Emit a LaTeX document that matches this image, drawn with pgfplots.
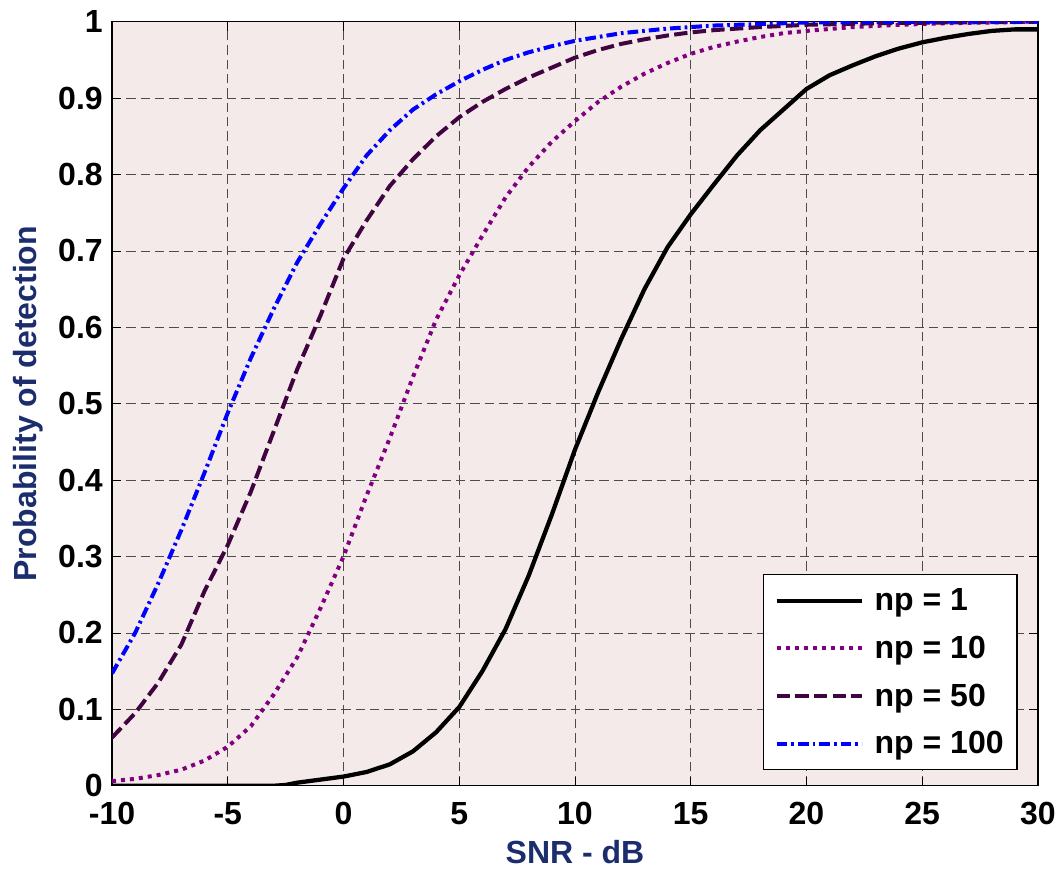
\documentclass[border=0pt]{standalone}
\usepackage{fontspec}
\setmainfont{Liberation Sans}
\usepackage{pgfplots}
\pgfplotsset{compat=1.18}

\definecolor{plotbg}{RGB}{244,234,234}
\definecolor{labelblue}{RGB}{28,45,110}
\definecolor{npten}{RGB}{128,0,128}
\definecolor{npfifty}{RGB}{64,4,64}
\definecolor{nphundred}{RGB}{0,0,255}

\newcommand{\bigbold}{\fontsize{24}{28}\selectfont\bfseries}

\begin{document}
\begin{tikzpicture}[x=1pt,y=1pt]
\begin{axis}[
    at={(0,0)}, anchor=south west,
    scale only axis,
    width=694.5pt, height=573pt,
    xmin=-10, xmax=30, ymin=0, ymax=1,
    xtick={-10,-5,0,5,10,15,20,25,30},
    ytick={0,0.1,0.2,0.3,0.4,0.5,0.6,0.7,0.8,0.9,1},
    /pgf/number format/assume math mode=true,
    yticklabel style={/pgf/number format/fixed, /pgf/number format/precision=1},
    tick label style={font=\bigbold, text=black},
    xticklabel style={anchor=base, yshift=-29.25pt, inner sep=0pt},
    yticklabel style={anchor=east, xshift=-6.75pt, inner sep=0pt},
    tick align=inside,
    major tick length=6.75pt,
    tick style={black, line width=0.6pt},
    axis line style={black, line width=1pt},
    axis background/.style={fill=plotbg},
    grid=major,
    major grid style={black!70, line width=0.6pt, dash pattern=on 7pt off 3.75pt},
    xlabel={SNR - dB},
    ylabel={Probability of detection},
    every axis x label/.style={at={(axis description cs:0.5,0)}, anchor=center,
        yshift=-50pt, font=\bigbold, text=labelblue},
    every axis y label/.style={at={(axis description cs:0,0.5)}, anchor=center,
        rotate=90, yshift=63pt, font=\bigbold, text=labelblue},
    legend image code/.code={\draw[#1] (0pt,0pt) -- (64pt,0pt);},
    legend cell align=left,
    legend style={at={(rel axis cs:0.978,0.02)}, anchor=south east,
        draw=black, line width=1pt, fill=white, font=\bigbold,
        inner xsep=8pt, inner ysep=8.5pt, row sep=13.5pt, column sep=6pt,
        nodes={inner sep=2pt}},
]
\addplot[black, line width=3.2pt, line join=round] coordinates {
(-10,0) (-9,0) (-8,0) (-7,0) (-6,0) (-5,0) (-4,0) (-3,0) (-2.5,0.001) (-2,0.004)
(-1,0.008) (0,0.012) (1,0.018) (2,0.028) (3,0.045) (4,0.07) (5,0.103) (6,0.15)
(7,0.205) (8,0.275) (9,0.355) (10,0.44) (11,0.515) (12,0.585) (13,0.65) (14,0.705)
(15,0.748) (16,0.787) (17,0.825) (18,0.858) (19,0.885) (20,0.912) (21,0.93)
(22,0.943) (23,0.955) (24,0.965) (25,0.973) (26,0.979) (27,0.984) (28,0.988)
(29,0.99) (30,0.99)};
\addlegendentry{np = 1}
\addplot[npten, line width=3pt, dash pattern=on 3pt off 3.75pt] coordinates {
(-10,0.006) (-9,0.009) (-8,0.014) (-7,0.021) (-6,0.033) (-5,0.051) (-4,0.078)
(-3,0.12) (-2,0.168) (-1,0.232) (0,0.30) (1,0.38) (2,0.455) (3,0.535) (4,0.61)
(5,0.668) (6,0.72) (7,0.77) (8,0.81) (9,0.843) (10,0.87) (11,0.895) (12,0.915)
(13,0.932) (14,0.946) (15,0.958) (16,0.967) (17,0.974) (18,0.98) (19,0.985)
(20,0.988) (22,0.993) (24,0.996) (26,0.998) (28,0.999) (30,1)};
\addlegendentry{np = 10}
\addplot[npfifty, line width=3pt, dash pattern=on 10pt off 4pt] coordinates {
(-10,0.063) (-9,0.095) (-8,0.135) (-7,0.185) (-6,0.255) (-5,0.315) (-4,0.385)
(-3,0.465) (-2,0.545) (-1,0.615) (0,0.69) (1,0.74) (2,0.785) (3,0.82) (4,0.85)
(5,0.875) (6,0.895) (7,0.912) (8,0.927) (9,0.94) (10,0.953) (11,0.963) (12,0.971)
(13,0.977) (14,0.982) (15,0.986) (16,0.989) (18,0.993) (20,0.996) (23,0.998)
(26,0.999) (30,1)};
\addlegendentry{np = 50}
\addplot[nphundred, line width=3pt, dash pattern=on 8pt off 3pt on 2pt off 3pt] coordinates {
(-10,0.147) (-9,0.2) (-8,0.265) (-7,0.335) (-6,0.41) (-5,0.488) (-4,0.56)
(-3,0.625) (-2,0.685) (-1,0.735) (0,0.782) (1,0.825) (2,0.858) (3,0.885) (4,0.905)
(5,0.922) (6,0.937) (7,0.95) (8,0.96) (9,0.968) (10,0.975) (11,0.98) (12,0.985)
(13,0.988) (14,0.991) (16,0.995) (18,0.997) (20,0.999) (25,1) (30,1)};
\addlegendentry{np = 100}
\end{axis}
\pgfresetboundingbox
\path (-84,-62.25) rectangle (714,589.3);
\end{tikzpicture}
\end{document}
